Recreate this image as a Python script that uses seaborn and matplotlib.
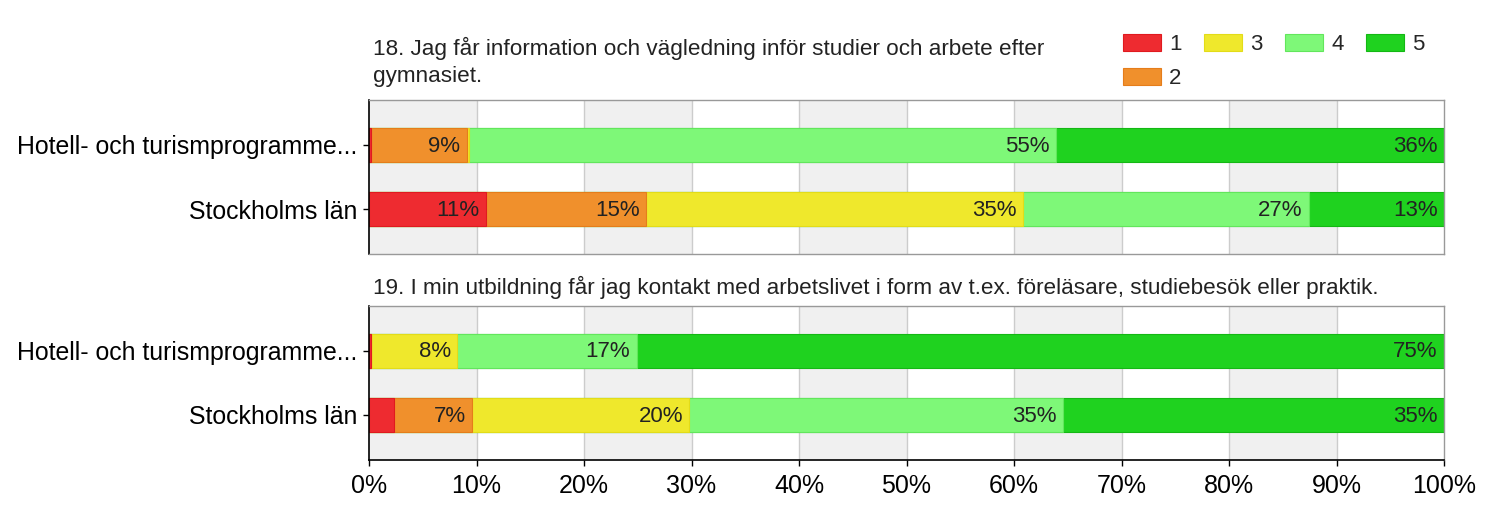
import numpy as np
import pandas as pd
import seaborn as sns
import matplotlib.pyplot as plt
from matplotlib.patches import Patch

# ---------------- data ----------------
categories = ["Hotell- och turismprogramme...", "Stockholms län"]
levels = ["1", "2", "3", "4", "5"]
level_colors = ["#ee2b30", "#f0902c", "#efe82c", "#7ef878", "#1fd21f"]
level_edges = ["#e01a1f", "#e57d1a", "#e3dc18", "#62e65c", "#14b814"]

title18 = "18. Jag får information och vägledning inför studier och arbete efter\ngymnasiet."
title19 = "19. I min utbildning får jag kontakt med arbetslivet i form av t.ex. föreläsare, studiebesök eller praktik."

q18_s1 = [0.2, 10.9]
q18_s2 = [8.9, 14.9]
q18_s3 = [0.2, 35.0]
q18_s4 = [54.6, 26.6]
q18_s5 = [36.1, 12.6]

q19_s1 = [0.2, 2.3]
q19_s2 = [0.0, 7.3]
q19_s3 = [8.0, 20.2]
q19_s4 = [16.7, 34.8]
q19_s5 = [75.1, 35.4]

xticks = [0, 10, 20, 30, 40, 50, 60, 70, 80, 90, 100]
xtick_labels = [f"{t}%" for t in xticks]

# ---------------- style ----------------
sns.set_style("white")
plt.rcParams['font.family'] = ['Liberation Sans', 'DejaVu Sans']

W, H = 1500, 512
fig = plt.figure(figsize=(W / 100, H / 100), dpi=100)

left = 369 / W
width = 1075 / W
ax1 = fig.add_axes([left, 1 - 254 / H, width, 154 / H])
ax2 = fig.add_axes([left, 1 - 460 / H, width, 154.5 / H])

TEXT = "#222222"


def draw_panel(ax, series, show_x):
    arr = np.array(series)
    cum = np.cumsum(arr, axis=0)
    # background bands + grid
    for b in range(0, 100, 20):
        ax.axvspan(b, b + 10, color="#f0f0f0", zorder=0, lw=0)
    for t in xticks[1:-1]:
        ax.axvline(t, color="#cccccc", lw=1, zorder=0.5)
    # stacked bars: draw largest cumulative first
    for i in range(len(levels) - 1, -1, -1):
        df = pd.DataFrame({"cat": categories, "val": cum[i]})
        sns.barplot(data=df, x="val", y="cat", orient="h", color=level_colors[i],
                    width=0.53, ax=ax, saturation=1, edgecolor=level_edges[i],
                    linewidth=0.8, zorder=2)
    # labels
    for i in range(len(levels)):
        for j in range(len(categories)):
            v = arr[i][j]
            if v >= 5:
                ax.text(cum[i][j] - 0.6, j + 0.02, f"{v:.0f}%", ha="right", va="center",
                        fontsize=16, color=TEXT, zorder=5)
    ax.set_xlim(0, 100)
    ax.set_ylim(1.7, -0.7)
    ax.set_xlabel("")
    ax.set_ylabel("")
    ax.tick_params(axis="y", labelsize=17.9, colors="black", length=4.3, width=1,
                   direction="out", left=True, pad=4.3, labelcolor="black")
    for s in ["top", "right", "bottom"]:
        ax.spines[s].set_color("#999999")
        ax.spines[s].set_linewidth(1)
    ax.spines["left"].set_color("black")
    ax.spines["left"].set_linewidth(1.2)
    ax.set_xticks(xticks)
    if show_x:
        ax.spines["bottom"].set_color("black")
        ax.spines["bottom"].set_linewidth(1.2)
        ax.set_xticklabels(xtick_labels)
        ax.tick_params(axis="x", labelsize=18, length=4.3, width=1, direction="out",
                       bottom=True, colors="black", pad=6)
    else:
        ax.tick_params(axis="x", bottom=False, labelbottom=False)


draw_panel(ax1, [q18_s1, q18_s2, q18_s3, q18_s4, q18_s5], False)
draw_panel(ax2, [q19_s1, q19_s2, q19_s3, q19_s4, q19_s5], True)

fig.text(373 / W, 1 - 37 / H, title18, ha="left", va="top", fontsize=16.2,
         color=TEXT, linespacing=1.38)
fig.text(373 / W, 1 - 287 / H, title19, ha="left", va="center", fontsize=16.2,
         color=TEXT)

handles = [Patch(facecolor=c, edgecolor=e, lw=0.8) for c, e in zip(level_colors, level_edges)]
fig.legend(handles, levels, ncol=4, loc="upper left",
           bbox_to_anchor=(1123 / W, 1 - 34 / H), frameon=False, fontsize=16,
           handlelength=1.71, handleheight=0.77, handletextpad=0.36,
           columnspacing=1.02, labelspacing=0.6, borderpad=0, borderaxespad=0)

fig.savefig("out.png", dpi=100)
